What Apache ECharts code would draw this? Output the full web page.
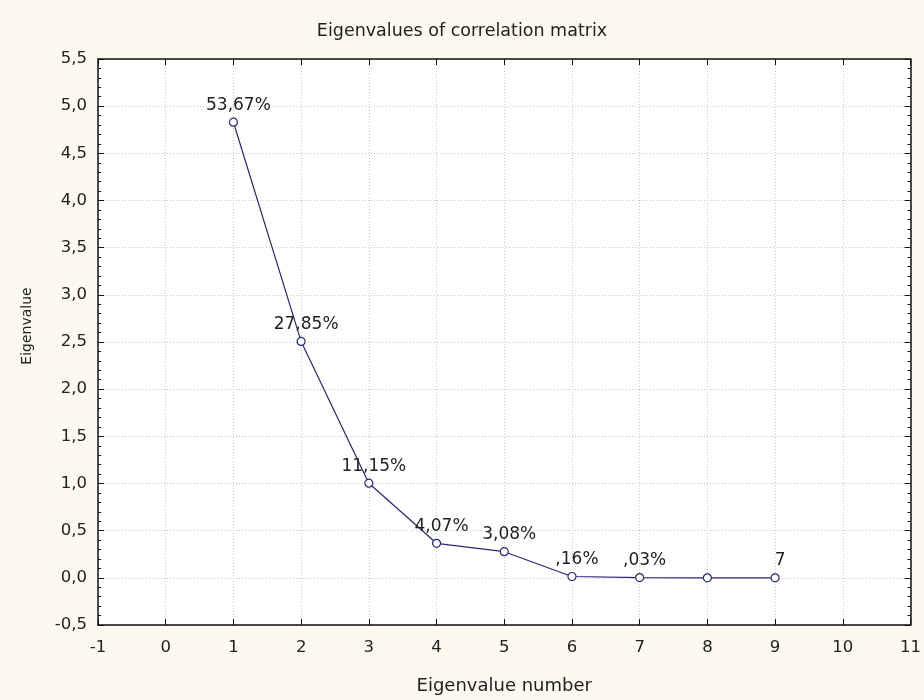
<!DOCTYPE html>
<html>
<head>
<meta charset="utf-8">
<script src="https://cdn.jsdelivr.net/npm/echarts@6/dist/echarts.min.js"></script>
<style>
html,body{margin:0;padding:0;background:#fcf9ef;}
#chart{width:924px;height:700px;}
</style>
</head>
<body>
<div id="chart"></div>
<script>
var eigenNumbers = [1, 2, 3, 4, 5, 6, 7, 8, 9];
var eigenValues = [4.83, 2.506, 1.003, 0.366, 0.277, 0.014, 0.003, 0.0005, 0.0002];
var pointLabels = ['53,67%', '27,85%', '11,15%', '4,07%', '3,08%', ',16%', ',03%', '', '7'];
var xTicks = {min: -1, max: 11, interval: 1};
var yTicks = {min: -0.5, max: 5.5, interval: 0.5};

var FONT = 'DejaVu Sans';
var lineColor = '#26267a';
var axisCommonLine = {show: true, onZero: false, lineStyle: {color: '#111', width: 1.5}};
var gridLine = {show: true, lineStyle: {color: '#c4c4c4', type: [1, 2], width: 1}};

var chart = echarts.init(document.getElementById('chart'));
var seriesData = eigenNumbers.map(function (n, i) { return [n, eigenValues[i]]; });

chart.setOption({
  backgroundColor: '#fcf9ef',
  animation: false,
  title: {
    text: 'Eigenvalues of correlation matrix',
    left: 'center',
    top: 17,
    textStyle: {fontFamily: FONT, fontSize: 17.5, fontWeight: 'normal', color: '#222'}
  },
  grid: {left: 98, right: 11, top: 59, bottom: 75, show: true, backgroundColor: '#ffffff', borderWidth: 0},
  xAxis: [{
    type: 'value', min: xTicks.min, max: xTicks.max, interval: xTicks.interval,
    name: 'Eigenvalue number', nameLocation: 'middle', nameGap: 52,
    nameTextStyle: {fontFamily: FONT, fontSize: 18, color: '#222'},
    axisLine: axisCommonLine,
    axisTick: {show: true, inside: true, length: 6, lineStyle: {color: '#111'}},
    axisLabel: {fontFamily: FONT, fontSize: 16.5, color: '#222', margin: 14},
    splitLine: gridLine
  }, {
    type: 'value', position: 'top', min: xTicks.min, max: xTicks.max, interval: xTicks.interval,
    axisLine: axisCommonLine,
    axisTick: {show: true, inside: true, length: 6, lineStyle: {color: '#111'}},
    axisLabel: {show: false}, splitLine: {show: false}
  }],
  yAxis: [{
    type: 'value', min: yTicks.min, max: yTicks.max, interval: yTicks.interval,
    name: 'Eigenvalue', nameLocation: 'middle', nameGap: 64, nameRotate: 90,
    nameTextStyle: {fontFamily: FONT, fontSize: 14, color: '#222', padding: [0, 0, 0, 32]},
    axisLine: axisCommonLine,
    axisTick: {show: true, inside: true, length: 6, lineStyle: {color: '#111'}},
    minorTick: {show: true, splitNumber: 5, length: 3, lineStyle: {color: '#111'}},
    axisLabel: {fontFamily: FONT, fontSize: 16.5, color: '#222', margin: 11,
      formatter: function (v) { return v.toFixed(1).replace('.', ','); }},
    splitLine: gridLine
  }, {
    type: 'value', position: 'right', min: yTicks.min, max: yTicks.max, interval: yTicks.interval,
    axisLine: axisCommonLine,
    axisTick: {show: true, inside: true, length: 6, lineStyle: {color: '#111'}},
    minorTick: {show: true, splitNumber: 5, length: 3, lineStyle: {color: '#111'}},
    axisLabel: {show: false}, splitLine: {show: false}
  }],
  series: [{
    type: 'line',
    data: seriesData,
    symbol: 'circle',
    symbolSize: 8,
    lineStyle: {color: lineColor, width: 1.2},
    itemStyle: {color: '#ffffff', borderColor: lineColor, borderWidth: 1.2},
    label: {
      show: true, position: 'top', distance: 4, offset: [5, 0],
      fontFamily: FONT, fontSize: 17, color: '#222',
      formatter: function (p) { return pointLabels[p.dataIndex]; }
    },
    z: 5
  }]
});
</script>
</body>
</html>
